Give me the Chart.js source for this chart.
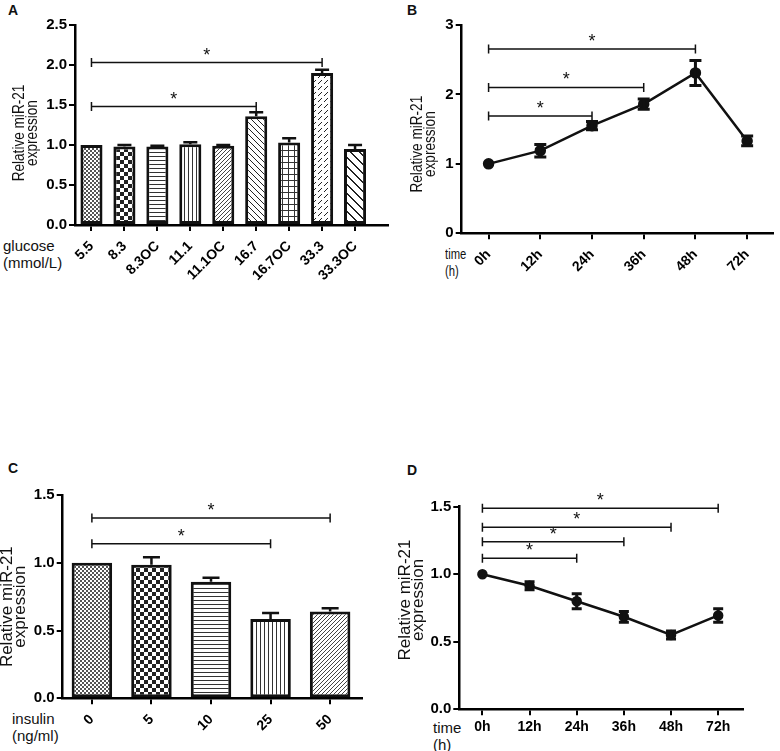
<!DOCTYPE html>
<html>
<head>
<meta charset="utf-8">
<script src="https://cdn.jsdelivr.net/npm/chart.js@4/dist/chart.umd.min.js"></script>
<style>
    body { margin: 0; background: #fff; width: 780px; height: 751px; position: relative; overflow: hidden;
           font-family: "Liberation Sans", Arial, sans-serif; color: #111; }
    canvas { position: absolute; }
    .letter { position: absolute; font-weight: bold; font-size: 14px; line-height: 14px; }
    .unit { position: absolute; font-size: 15px; line-height: 17px; transform-origin: 0 0; }
</style>
</head>
<body>
<div class="letter" style="left:8px;top:3px">A</div>
<div class="letter" style="left:407px;top:3px">B</div>
<div class="letter" style="left:8px;top:461px">C</div>
<div class="letter" style="left:407px;top:463px">D</div>

<div class="unit" style="left:3px;top:237px">glucose<br>(mmol/L)</div>
<div class="unit" style="left:445px;top:245px;transform:scaleX(0.75)">time<br>(h)</div>
<div class="unit" style="left:12px;top:710px">insulin<br>(ng/ml)</div>
<div class="unit" style="left:433px;top:719px">time<br>(h)</div>

<canvas id="chartA" width="390" height="320" style="left:0;top:0"></canvas>
<canvas id="chartB" width="390" height="320" style="left:390px;top:0"></canvas>
<canvas id="chartC" width="390" height="351" style="left:0;top:400px"></canvas>
<canvas id="chartD" width="390" height="311" style="left:390px;top:440px"></canvas>

<script>
// A - glucose dose
const glucoseLabels = ['5.5', '8.3', '8.3OC', '11.1', '11.1OC', '16.7', '16.7OC', '33.3', '33.3OC'];
const glucoseMeans = [1.00, 0.98, 0.98, 1.01, 0.99, 1.36, 1.03, 1.90, 0.95];
const glucoseErr = [0, 0.02, 0.01, 0.025, 0.01, 0.05, 0.055, 0.04, 0.05];
const glucoseSig = [[0, 7, 2.03], [0, 5, 1.48]]; // [from, to, bracket height]
const glucoseTicks = [0, 0.5, 1, 1.5, 2, 2.5];

// B - glucose time course
const timeLabels = ['0h', '12h', '24h', '36h', '48h', '72h'];
const glucoseTimeMeans = [1.00, 1.19, 1.55, 1.86, 2.31, 1.33];
const glucoseTimeErr = [0, 0.09, 0.06, 0.075, 0.18, 0.07];
const glucoseTimeSig = [[0, 4, 2.655], [0, 3, 2.10], [0, 2, 1.69]];
const glucoseTimeTicks = [0, 1, 2, 3];

// C - insulin dose
const insulinLabels = ['0', '5', '10', '25', '50'];
const insulinMeans = [1.00, 0.985, 0.86, 0.585, 0.64];
const insulinErr = [0, 0.055, 0.03, 0.045, 0.025];
const insulinSig = [[0, 4, 1.33], [0, 3, 1.14]];
const insulinTicks = [0, 0.5, 1, 1.5];

// D - insulin time course
const insulinTimeMeans = [1.00, 0.915, 0.80, 0.685, 0.55, 0.695];
const insulinTimeErr = [0, 0.03, 0.055, 0.04, 0.03, 0.05];
const insulinTimeSig = [[0, 5, 1.488], [0, 4, 1.347], [0, 3, 1.24], [0, 2, 1.118]];
const insulinTimeTicks = [0, 0.5, 1, 1.5];

const yTitle = ['Relative miR-21', 'expression'];
const FONT = '"Liberation Sans", Arial, sans-serif';
const INK = '#111';

// hatch fills for the bars
function makePattern(kind) {
    const sizes = { fine: 4, checker: 8, hlines: 4, vlines: 4, diagFine: 4, diagBack: 6, grid: 6, diagDash: 6, diagWide: 9 };
    const s = sizes[kind];
    const c = document.createElement('canvas');
    c.width = c.height = s;
    const g = c.getContext('2d');
    g.fillStyle = '#fff';
    g.fillRect(0, 0, s, s);
    g.fillStyle = '#222';
    const px = (x, y) => g.fillRect(((x % s) + s) % s, ((y % s) + s) % s, 1, 1);
    switch (kind) {
        case 'fine': g.fillStyle = '#555'; g.fillRect(0, 0, 2, 2); g.fillRect(2, 2, 2, 2); break;
        case 'checker': g.fillRect(0, 0, 4, 4); g.fillRect(4, 4, 4, 4); break;
        case 'hlines': g.fillStyle = '#333'; g.fillRect(0, 0, s, 1); break;
        case 'vlines': g.fillStyle = '#333'; g.fillRect(0, 0, 1, s); break;
        case 'diagFine': g.fillStyle = '#444'; for (let i = 0; i < s; i++) px(i, s - 1 - i); break;
        case 'diagBack': for (let i = 0; i < s; i++) px(i, i); break;
        case 'grid': g.fillStyle = '#333'; g.fillRect(0, 0, s, 1); g.fillRect(0, 0, 1, s); break;
        case 'diagDash': for (let i = 0; i < 4; i++) px(i, s - 1 - i); break;
        case 'diagWide': for (let i = 0; i < s; i++) { px(i, i); px(i + 1, i); } break;
    }
    return g.createPattern(c, 'repeat');
}

const glucoseFills = ['fine', 'checker', 'hlines', 'vlines', 'diagFine', 'diagBack', 'grid', 'diagDash', 'diagWide'];
const insulinFills = ['fine', 'checker', 'hlines', 'vlines', 'diagFine'];

// error bars, significance brackets and the two-line y title
const annotate = {
    id: 'annotate',
    afterDatasetsDraw(chart, args, o) {
        const { ctx, chartArea, scales: { x, y } } = chart;
        const meta = chart.getDatasetMeta(0);
        ctx.save();
        ctx.strokeStyle = INK;
        ctx.fillStyle = INK;

        ctx.lineWidth = o.errWidth;
        o.err.forEach((e, i) => {
            if (!e) return;
            const px = meta.data[i].x;
            const v = o.means[i];
            const top = y.getPixelForValue(v + e);
            const bot = o.upOnly ? y.getPixelForValue(v) : y.getPixelForValue(v - e);
            ctx.beginPath();
            ctx.moveTo(px, bot);
            ctx.lineTo(px, top);
            ctx.moveTo(px - o.cap / 2, top);
            ctx.lineTo(px + o.cap / 2, top);
            if (!o.upOnly) {
                ctx.moveTo(px - o.cap / 2, bot);
                ctx.lineTo(px + o.cap / 2, bot);
            }
            ctx.stroke();
        });

        ctx.lineWidth = 1.5;
        ctx.font = '18px ' + FONT;
        ctx.textAlign = 'center';
        ctx.textBaseline = 'alphabetic';
        o.sig.forEach(([a, b, h]) => {
            const x1 = x.getPixelForValue(a), x2 = x.getPixelForValue(b), yy = y.getPixelForValue(h);
            ctx.beginPath();
            ctx.moveTo(x1, yy); ctx.lineTo(x2, yy);
            ctx.moveTo(x1, yy - 4.5); ctx.lineTo(x1, yy + 4.5);
            ctx.moveTo(x2, yy - 4.5); ctx.lineTo(x2, yy + 4.5);
            ctx.stroke();
            ctx.fillText('*', (x1 + x2) / 2, yy - 2);
        });

        ctx.translate(o.titleX, (chartArea.top + chartArea.bottom) / 2 + o.titleDy);
        ctx.rotate(-Math.PI / 2);
        ctx.scale(o.titleSqueeze, 1);
        ctx.font = '17px ' + FONT;
        ctx.textBaseline = 'middle';
        yTitle.forEach((t, i) => ctx.fillText(t, 0, i * 13));
        ctx.restore();
    }
};

function buildOptions(p) {
    const tickFont = { family: FONT, size: 15, weight: 'bold' };
    return {
        responsive: false,
        animation: false,
        layout: { padding: { left: 0, top: p.top, right: p.right, bottom: 0 } },
        plugins: { legend: { display: false }, tooltip: { enabled: false }, annotate: p.annotate },
        scales: {
            x: {
                type: 'linear', min: p.xMin, max: p.xMax, offset: false,
                afterBuildTicks: s => { s.ticks = p.labels.map((_, i) => ({ value: i })); },
                afterFit: s => { s.height = p.xHeight; },
                ticks: { callback: v => p.labels[v], font: { ...tickFont, size: 14 }, color: '#000', autoSkip: false,
                         minRotation: p.rot, maxRotation: p.rot, padding: p.rot ? 7 : 3 },
                grid: { offset: false, drawOnChartArea: false, drawTicks: true, tickLength: 6, lineWidth: 2, color: '#000' },
                border: { width: 2.5, color: '#000' }
            },
            y: {
                min: p.yTicks[0], max: p.yTicks[p.yTicks.length - 1],
                afterBuildTicks: s => { s.ticks = p.yTicks.map(v => ({ value: v })); },
                afterFit: s => { s.width = p.yWidth; },
                ticks: { callback: v => p.decimals ? v.toFixed(1) : String(v), font: tickFont, color: '#000', padding: 2 },
                grid: { drawOnChartArea: false, drawTicks: true, tickLength: 6, lineWidth: 2, color: '#000' },
                border: { width: 2.5, color: '#000' }
            }
        }
    };
}

function barChart(id, labels, means, fills, p) {
    return new Chart(document.getElementById(id), {
        type: 'bar',
        data: {
            datasets: [{
                data: means.map((v, i) => ({ x: i, y: v })),
                backgroundColor: fills.map(makePattern),
                borderColor: INK,
                borderWidth: 3,
                borderSkipped: false,
                categoryPercentage: 1,
                barPercentage: p.barPct
            }]
        },
        options: buildOptions(p),
        plugins: [annotate]
    });
}

function lineChart(id, labels, means, p) {
    return new Chart(document.getElementById(id), {
        type: 'line',
        data: {
            datasets: [{
                data: means.map((v, i) => ({ x: i, y: v })),
                borderColor: INK,
                borderWidth: 2.5,
                pointRadius: p.pointRadius,
                pointBackgroundColor: INK,
                pointBorderColor: INK,
                tension: 0
            }]
        },
        options: buildOptions(p),
        plugins: [annotate]
    });
}

barChart('chartA', glucoseLabels, glucoseMeans, glucoseFills, {
    labels: glucoseLabels, yTicks: glucoseTicks, decimals: true, rot: 45,
    xMin: -0.5, xMax: 9.0, top: 25, right: 2, xHeight: 95, yWidth: 75, barPct: 0.67,
    annotate: { means: glucoseMeans, err: glucoseErr, sig: glucoseSig, upOnly: true, cap: 14, errWidth: 2.5,
                titleX: 19, titleDy: 8, titleSqueeze: 0.8 }
});

lineChart('chartB', timeLabels, glucoseTimeMeans, {
    labels: timeLabels, yTicks: glucoseTimeTicks, decimals: false, rot: 45,
    xMin: -0.52, xMax: 5.5, top: 25, right: 2, xHeight: 86.7, yWidth: 71.7, pointRadius: 4.5,
    annotate: { means: glucoseTimeMeans, err: glucoseTimeErr, sig: glucoseTimeSig, upOnly: false, cap: 12, errWidth: 3,
                titleX: 27.5, titleDy: 15, titleSqueeze: 0.8 }
});

barChart('chartC', insulinLabels, insulinMeans, insulinFills, {
    labels: insulinLabels, yTicks: insulinTicks, decimals: true, rot: 45,
    xMin: -0.49, xMax: 4.53, top: 95, right: 28.3, xHeight: 52.7, yWidth: 62.7, barPct: 0.68,
    annotate: { means: insulinMeans, err: insulinErr, sig: insulinSig, upOnly: true, cap: 17, errWidth: 2.5,
                titleX: 7, titleDy: 10, titleSqueeze: 1 }
});

lineChart('chartD', timeLabels, insulinTimeMeans, {
    labels: timeLabels, yTicks: insulinTimeTicks, decimals: true, rot: 0,
    xMin: -0.49, xMax: 5.52, top: 66.7, right: 37.3, xHeight: 41.7, yWidth: 69.3, pointRadius: 4,
    annotate: { means: insulinTimeMeans, err: insulinTimeErr, sig: insulinTimeSig, upOnly: false, cap: 10, errWidth: 3,
                titleX: 15.8, titleDy: -8, titleSqueeze: 1 }
});
</script>
</body>
</html>
